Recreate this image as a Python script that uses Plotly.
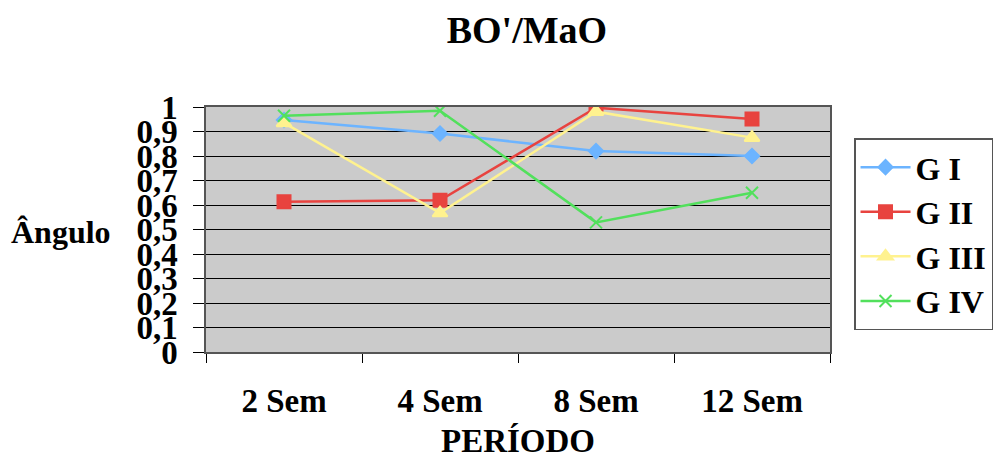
import plotly.graph_objects as go

categories = ["2 Sem", "4 Sem", "8 Sem", "12 Sem"]
series_names = ["G I", "G II", "G III", "G IV"]
g1 = [0.947, 0.892, 0.82, 0.80]
g2 = [0.613, 0.619, 0.997, 0.951]
g3 = [0.935, 0.567, 0.981, 0.875]
g4 = [0.964, 0.985, 0.529, 0.65]
y_tickvals = [0, 0.1, 0.2, 0.3, 0.4, 0.5, 0.6, 0.7, 0.8, 0.9, 1]
y_ticktext = ["0", "0,1", "0,2", "0,3", "0,4", "0,5", "0,6", "0,7", "0,8", "0,9", "1"]

colors = ["#6CB4FF", "#E8433F", "#FFF28F", "#52E05C"]
symbols = ["diamond", "square", "triangle-up", "x-thin"]
sizes = [11, 13, 13, 12]
FONT = "Liberation Serif"

fig = go.Figure()
for name, vals, c, s, sz in zip(series_names, [g1, g2, g3, g4], colors, symbols, sizes):
    fig.add_trace(go.Scatter(
        x=categories, y=vals, name="<b>" + name + "</b>", mode="lines+markers",
        line=dict(color=c, width=2.5),
        marker=dict(symbol=s, size=sz, color=c, line=dict(color=c, width=2)),
        legendgroup=name,
    ))

fig.update_layout(
    width=998, height=459,
    margin=dict(l=206, r=168, t=107, b=107, autoexpand=False),
    paper_bgcolor="white", plot_bgcolor="#CBCBCB",
    font=dict(family=FONT, color="black"),
    title=dict(text="<b>BO'/MaO</b>", x=0.528, xanchor="center", y=0.935, yanchor="middle",
               font=dict(size=38, family=FONT)),
    showlegend=True,
    legend=dict(x=1.0385, xanchor="left", y=0.872, yanchor="top",
                bordercolor="#555555", borderwidth=1.5, bgcolor="white",
                font=dict(size=32, family=FONT), tracegroupgap=0,
                itemwidth=50),
)
fig.update_xaxes(
    type="category", range=[-0.5, 3.5], tickson="boundaries", ticks="outside", ticklen=9,
    tickcolor="black", showgrid=False, showline=True, linecolor="#555555", linewidth=1.5,
    mirror=True, tickfont=dict(size=33, family=FONT), ticklabelstandoff=19,
    title=dict(text="<b>PERÍODO</b>", font=dict(size=33, family=FONT), standoff=16),
    tickprefix="<b>", ticksuffix="</b>",
)
fig.update_yaxes(
    range=[0, 1], tickvals=y_tickvals, ticktext=["<b>" + t + "</b>" for t in y_ticktext],
    ticks="outside", ticklen=11, tickcolor="black",
    showgrid=True, gridcolor="black", gridwidth=1.2,
    showline=True, linecolor="#555555", linewidth=1.5, mirror=True,
    tickfont=dict(size=33, family=FONT), zeroline=False, ticklabelstandoff=9,
)
fig.add_annotation(text="<b>Ângulo</b>", xref="paper", yref="paper", x=-0.233, y=0.49,
                   xanchor="center", yanchor="middle", showarrow=False,
                   font=dict(size=32, family=FONT))

fig.write_html("out.html")
